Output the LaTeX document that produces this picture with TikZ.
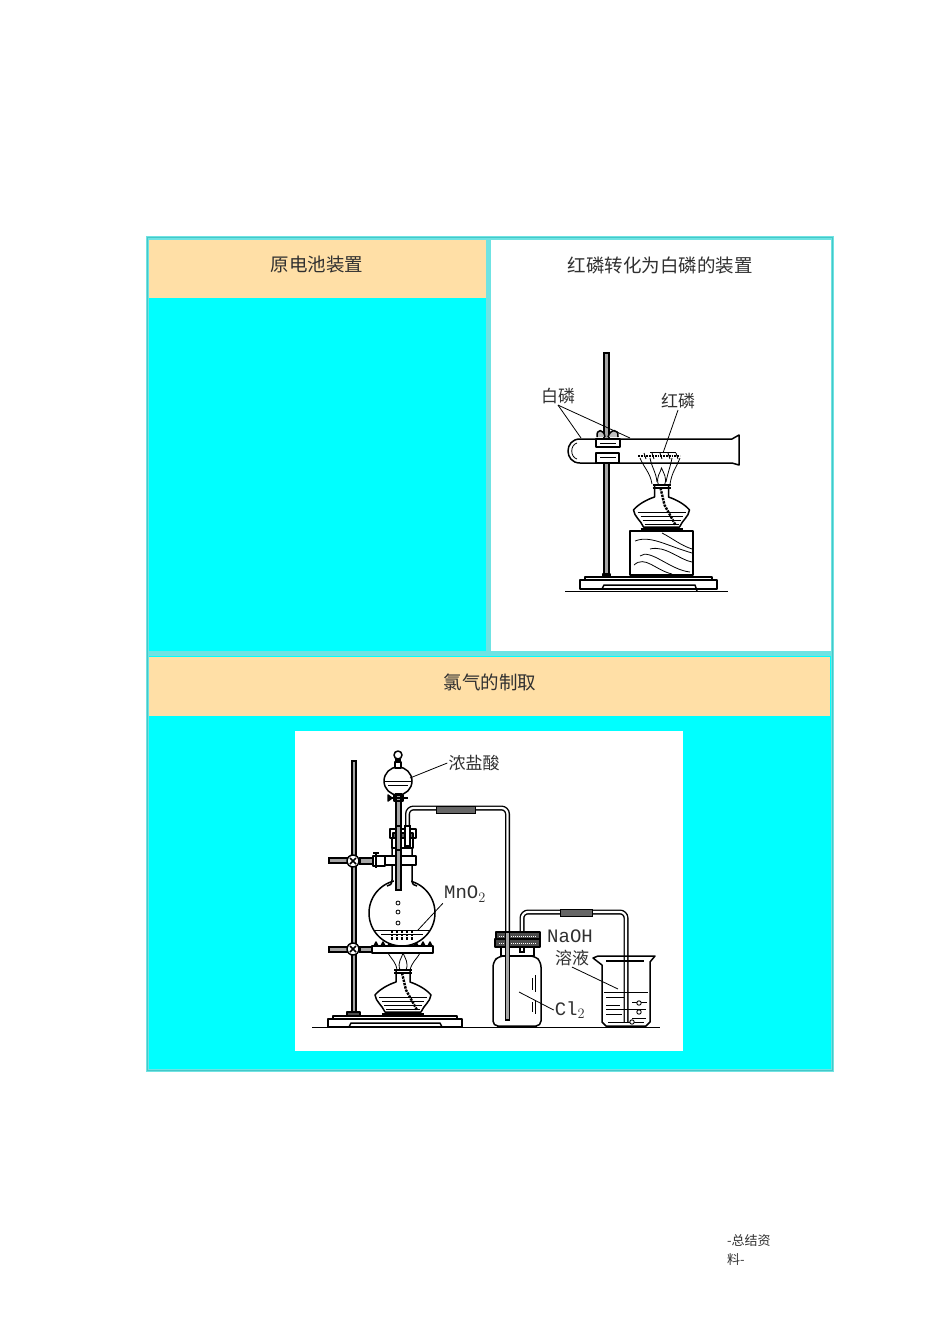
\documentclass[tikz,border=0pt]{standalone}
\usepackage{fontspec}
\setmonofont{Liberation Mono}
\newfontfamily\cjk{Noto Sans CJK SC}
\usetikzlibrary{positioning}
\definecolor{frameteal}{HTML}{45C8C8}
\definecolor{gapteal}{HTML}{6FE3E3}
\definecolor{cellcyan}{HTML}{00FFFF}
\definecolor{headpeach}{HTML}{FFDFA6}
\definecolor{inkgrey}{HTML}{303030}

\tikzset{
    cell/.style={fill=#1, draw=none},
    headtext/.style={font=\cjk\fontsize{18.5}{20}\selectfont, text=inkgrey, inner sep=0pt},
    labelcn/.style={font=\cjk\fontsize{17}{19}\selectfont, text=inkgrey, inner sep=1pt},
    labelen/.style={font=\ttfamily\fontsize{19}{21}\selectfont, text=inkgrey, inner sep=1pt},
    foot/.style={font=\cjk\fontsize{13}{15}\selectfont, text=inkgrey, inner sep=0pt, anchor=west},
    glass/.style={draw=black, line width=1.5pt, line join=round},
    thinline/.style={draw=black, line width=0.8pt},
    leader/.style={draw=black, line width=0.8pt},
    rod/.style={draw=black, line width=1.2pt, fill=black!35},
    tube/.style={draw=black, line width=1.4pt, double=white, double distance=2.2pt, rounded corners=6pt},
    rubber/.style={draw=black, line width=0.8pt, fill=black!60},
    pics/lamp/.style={code={
        % neck and burner
        \draw[glass, fill=white] (-7,0) -- (-7,12) .. controls (-16,15) and (-24,20) .. (-28,25) .. controls (-27,32) and (-21,35) .. (-18,42) -- (18,42) .. controls (21,35) and (27,32) .. (28,25) .. controls (24,20) and (16,15) .. (7,12) -- (7,0);
        \draw[glass] (-9,0) -- (9,0);
        \draw[glass] (-9,3) -- (9,3);
        \foreach \yy/\xx in {27/24, 31/21, 35/19, 39/17} {
            \draw[thinline] (-\xx,\yy) -- (\xx,\yy);
        }
        % wick
        \draw[draw=black, line width=2.4pt, densely dotted] (-1,3) -- (3,20) -- (14,40);
        \draw[glass, line width=2pt] (-21,44) -- (21,44);
        % flame
        \draw[thinline] (-3,0) .. controls (-6,-8) and (-1,-12) .. (0,-17) .. controls (2,-12) and (6,-7) .. (3,0);
    }}
}

\begin{document}
\begin{tikzpicture}[x=1pt, y=-1pt]
\useasboundingbox (0,0) rectangle (950,1318);

% table
\fill[gapteal] (146,236) rectangle (834,1072);
\draw[frameteal, line width=1.6pt] (147.5,237.5) rectangle (832.5,1070.5);
\fill[cell=cellcyan] (149,240) rectangle (486,651);
\fill[cell=headpeach] (149,240) rectangle (486,298);
\fill[cell=white] (491,240) rectangle (831,651);
\fill[cell=cellcyan] (149,656) rectangle (831,1069);
\fill[cell=headpeach] (149,657) rectangle (830,716);
\fill[cell=white] (295,731) rectangle (683,1051);

\node[headtext] (headA) at (317,265) {原电池装置};
\node[headtext] (headB) at (660,265) {红磷转化为白磷的装置};
\node[headtext] (headC) at (490,682) {氯气的制取};

% red phosphorus stand
\draw[rod] (604,353) rectangle (609,574);
\draw[glass, fill=white] (585,577) rectangle (712,580);
\draw[glass, fill=white] (580,580) rectangle (717,589);
\draw[glass, fill=black] (603,574) rectangle (610,577);
\draw[glass] (602,589) -- (604,585) -- (695,585) -- (697,591);
\draw[glass] (565,591.5) -- (728,591.5);

% wood block
\draw[glass, fill=white] (630,531) rectangle (693,575);
\draw[thinline] (635,541) .. controls (650,535) and (665,545) .. (692,553);
\draw[thinline] (650,549) .. controls (665,545) and (680,560) .. (692,562);
\draw[thinline] (640,556) .. controls (650,548) and (670,570) .. (690,572);
\draw[thinline] (634,565) .. controls (645,555) and (655,570) .. (672,574);
\draw[thinline] (662,533) .. controls (672,538) and (680,545) .. (692,549);

% test tube
\draw[glass, fill=white] (739,435) -- (732,439) -- (580,439) .. controls (564,439) and (564,463) .. (580,463) -- (732,463) -- (739,465) -- cycle;
\draw[thinline] (577,443) .. controls (570,445) and (570,457) .. (577,459);

% lamp under the tube
\pic at (661.5,485) {lamp};
\draw[thinline] (640,458) .. controls (644,468) and (650,472) .. (652,484);
\draw[thinline] (650,458) .. controls (652,468) and (656,472) .. (657,482);
\draw[thinline] (680,458) .. controls (676,468) and (672,472) .. (670,484);
\draw[thinline] (672,458) .. controls (670,468) and (668,472) .. (666,482);
\draw[draw=black, line width=1.8pt, densely dotted] (638,456) -- (680,456);
\draw[thinline] (650,452) -- (676,452);
\foreach \xx in {644,652,660,668,676} {
    \draw[thinline] (\xx,453) -- (\xx+2,459);
}

% clamps
\draw[glass, fill=white] (596,439) rectangle (620,447);
\draw[glass, fill=white] (596,453) rectangle (619,463);
\draw[thinline] (600,443) -- (616,443);
\draw[thinline] (600,457) -- (616,457);
\draw[glass, fill=black!25] (597,437) .. controls (596,428) and (604,429) .. (605,437);
\draw[glass, fill=black!25] (608,437) .. controls (610,429) and (619,428) .. (618,437);

% leaders for the first set-up
\node[labelcn] (labelWhite) at (558,396) {白磷};
\node[labelcn] (labelRed) at (678,401) {红磷};
\coordinate (whiteA) at (581,438);
\coordinate (whiteB) at (630,438);
\coordinate (redA) at (663,453);
\draw[leader] (labelWhite.south) -- (whiteA);
\draw[leader] (labelWhite.south) -- (whiteB);
\draw[leader] (labelRed.south) -- (redA);

% chlorine stand
\draw[rod] (352,761) rectangle (356,1012);
\draw[glass, fill=black!70] (347,1012) rectangle (360,1016);
\draw[glass, fill=white] (333,1016) rectangle (457,1019);
\draw[glass, fill=white] (328,1019) rectangle (462,1027);
\draw[glass] (349,1027) -- (351,1023) -- (440,1023) -- (442,1027);
\draw[glass] (312,1027.5) -- (660,1027.5);

% upper clamp
\draw[rod] (329,858) rectangle (348,863);
\draw[rod] (360,858) rectangle (373,864);
\draw[glass, fill=white] (373,856) rectangle (385,866);
\draw[glass] (376,853) -- (376,868);
\draw[glass] (373,853) -- (379,853);
\draw[glass, fill=white] (353,861) circle (6);
\draw[glass] (350,858) -- (356,864) (356,858) -- (350,864);

% lamp and gauze
\pic at (403,970) {lamp};
\draw[thinline] (388,953) .. controls (392,960) and (396,962) .. (397,970);
\draw[thinline] (420,953) .. controls (416,960) and (412,962) .. (410,970);
\draw[rod] (329,947) rectangle (348,952);
\draw[rod] (360,947) rectangle (372,952);
\draw[glass, fill=white] (372,946) rectangle (433,953);
\draw[glass, fill=white] (353,949) circle (6);
\draw[glass] (350,946) -- (356,952) (356,946) -- (350,952);
\foreach \xx in {376,383,390,416,423,430} {
    \draw[glass, fill=black] (\xx-2,946) -- (\xx,942) -- (\xx+2,946);
}

% flask
\draw[glass, fill=white] (402,913) circle (33);
\fill[white] (393.5,875) rectangle (410.5,886);
\draw[glass] (392,848) -- (392,880) .. controls (392,884) and (390,886) .. (387,886) (412,848) -- (412,880) .. controls (412,884) and (414,886) .. (417,886);
\draw[glass, fill=white] (385,856) rectangle (416,865);
\draw[thinline] (375,930) -- (429,930);
\draw[thinline] (381,934) -- (423,934);
\foreach \xx in {392,397,402,407,412} {
    \draw[draw=black, line width=2.2pt, densely dotted] (\xx,931) -- (\xx,940);
}
\foreach \yy in {903,912,923} {
    \draw[thinline] (398,\yy) circle (2);
}

% funnel
\draw[glass, fill=white] (398,781) circle (14);
\draw[glass, fill=white] (395,762) rectangle (401,768);
\draw[glass, fill=white] (398,755) circle (4);
\draw[glass, fill=black] (396,759) rectangle (400,762);
\draw[thinline] (385,781) -- (411,781);
\draw[thinline] (388,785) -- (408,785);
\draw[rod] (396,794) rectangle (401,890);
\draw[glass] (390,798) -- (408,798);
\draw[glass, fill=black] (388,795) -- (392,798) -- (388,801) -- cycle;
\draw[glass] (394,795) rectangle (403,801);

% delivery tubes
\draw[tube] (407.5,845) -- (407.5,808) -- (507.5,808) -- (507.5,1020);
\draw[rubber] (436,806) rectangle (475,813);
\draw[tube] (522,952) -- (522,912) -- (626,912) -- (626,1022);
\draw[rubber] (560,909) rectangle (592,916);

% stopper of the flask
\draw[glass, fill=white] (390,829) rectangle (416,838);
\draw[glass, fill=white] (392,838) rectangle (413,848);
\draw[glass, fill=black!60] (393,833) rectangle (413,838);
\draw[rod] (396,826) rectangle (401,850);
\draw[draw=black, line width=1.2pt, fill=white] (405,826) rectangle (410,846);

% gas bottle
\draw[glass, fill=white, rounded corners=5pt] (499,956) -- (493,962) -- (493,1026) -- (541,1026) -- (541,962) -- (535,956) -- cycle;
\draw[glass, fill=white] (501,947) rectangle (534,956);
\draw[glass, fill=black!70] (496,932) rectangle (540,940);
\draw[glass, fill=black!70] (495,939) rectangle (540,947);
\draw[draw=white, line width=1pt, densely dotted] (499,936) -- (536,936) (499,943) -- (536,943);
\draw[draw=black, line width=1.2pt, fill=white] (520,947) rectangle (524,952);
\draw[rod] (505.5,932) rectangle (509.5,1020);
\draw[thinline] (532,978) -- (532,990) (535,975) -- (535,992) (532,1002) -- (532,1012) (535,1000) -- (535,1014);
\draw[glass, line width=2pt] (497,1026.5) -- (537,1026.5);

% beaker
\draw[glass] (593,958) -- (602,965) -- (602,1022) -- (606,1026) -- (646,1026) -- (650,1022) -- (650,962) -- (655,956) -- (598,956) -- cycle;
\draw[glass] (606,961) -- (644,961);
\foreach \yy/\xa/\xb in {992/604/648, 997/606/624, 1002/632/647, 1005/606/620, 1009/606/646, 1014/606/622, 1018/632/646, 1022/608/644} {
    \draw[thinline] (\xa,\yy) -- (\xb,\yy);
}
\foreach \xx/\yy in {639/1003, 639/1012, 632/1022} {
    \draw[draw=black, line width=0.9pt, fill=white] (\xx,\yy) circle (2.2);
}

% labels of the second set-up
\node[labelcn] (labelAcid) at (474,763) {浓盐酸};
\node[labelen] (labelMno) at (465,894) {MnO$_2$};
\node[labelen] (labelNaoh) at (570,936) {NaOH};
\node[labelcn] (labelSol) at (572,958) {溶液};
\node[labelen] (labelCl) at (570,1010) {Cl$_2$};
\coordinate (acidEnd) at (410,778);
\coordinate (mnoEnd) at (418,930);
\coordinate (solEnd) at (618,989);
\coordinate (clEnd) at (519,992);
\draw[leader] (labelAcid.west) -- (acidEnd);
\draw[leader] (labelMno.south west) -- (mnoEnd);
\draw[leader] (labelSol.south) -- (solEnd);
\draw[leader] (labelCl.west) -- (clEnd);

% page footer
\node[foot] (footA) at (727,1241) {-总结资};
\node[foot] (footB) at (727,1260) {料-};

\end{tikzpicture}
\end{document}
